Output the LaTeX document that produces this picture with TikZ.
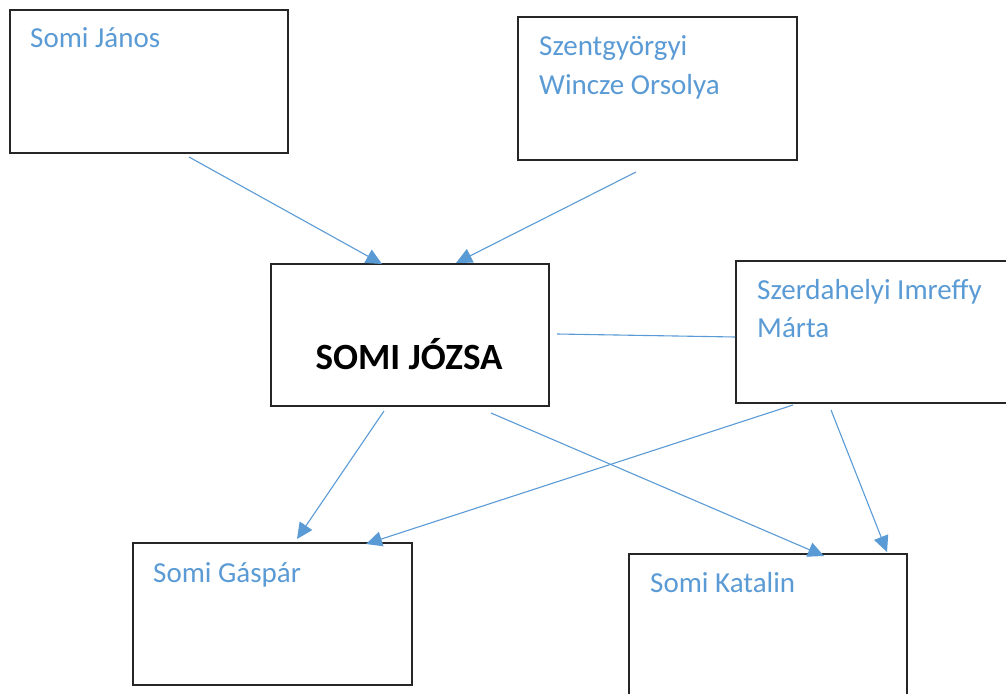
\documentclass[tikz,border=0pt]{standalone}
\usepackage{fontspec}
\setmainfont{Carlito}
\usetikzlibrary{arrows.meta}
\definecolor{lblue}{HTML}{5B9BD5}
\tikzset{
  box/.style={draw=black!85, line width=1.6pt, anchor=north west, inner sep=0pt, outer sep=0pt},
  lbl/.style={anchor=base west, inner sep=0pt, text=lblue, font=\fontsize{29}{36}\selectfont},
  conn/.style={draw=lblue, line width=1.1pt},
  arr/.style={conn, -{Triangle[length=16pt,width=15pt]}},
}
\begin{document}
\begin{tikzpicture}[x=1pt,y=-1pt]
\useasboundingbox (0,0) rectangle (1006,693);
\clip (0,0) rectangle (1006,693);
\fill[white] (0,0) rectangle (1006,693);
% boxes
\node[box, minimum width=278, minimum height=143] (A) at (10,10) {};
\node[box, minimum width=279, minimum height=143] (B) at (518,17) {};
\node[box, minimum width=278, minimum height=142] (C) at (271,264) {};
\node[box, minimum width=279, minimum height=142] (D) at (736,261) {};
\node[box, minimum width=279, minimum height=142] (E) at (133,543) {};
\node[box, minimum width=278, minimum height=151] (F) at (629,554) {};
% texts
\node[lbl] (tA) at (30,48) {Somi János};
\node[lbl] (tB1) at (539,56) {Szentgyörgyi};
\node[lbl] (tB2) at (539,94) {Wincze Orsolya};
\node[anchor=base, inner sep=0pt, font=\fontsize{37}{42}\selectfont\bfseries] (tC) at (409,369) {SOMI JÓZSA};
\node[lbl] (tD1) at (757,299) {Szerdahelyi Imreffy};
\node[lbl] (tD2) at (757,337) {Márta};
\node[lbl] (tE) at (153,582) {Somi Gáspár};
\node[lbl] (tF) at (650,592) {Somi Katalin};
% connector end points
\coordinate (a1) at (189,157);
\coordinate (a2) at (382,264);
\coordinate (b1) at (636,172);
\coordinate (b2) at (456,263);
\coordinate (c1) at (557,334);
\coordinate (c2) at (735,337);
\coordinate (d1) at (384,411);
\coordinate (d2) at (297,539);
\coordinate (e1) at (491,413);
\coordinate (e2) at (824,556);
\coordinate (f1) at (793,405);
\coordinate (f2) at (366,544);
\coordinate (g1) at (831,410);
\coordinate (g2) at (887,552);
\draw[arr] (a1) -- (a2);
\draw[arr] (b1) -- (b2);
\draw[conn] (c1) -- (c2);
\draw[arr] (d1) -- (d2);
\draw[arr] (e1) -- (e2);
\draw[arr] (f1) -- (f2);
\draw[arr] (g1) -- (g2);
\end{tikzpicture}
\end{document}
